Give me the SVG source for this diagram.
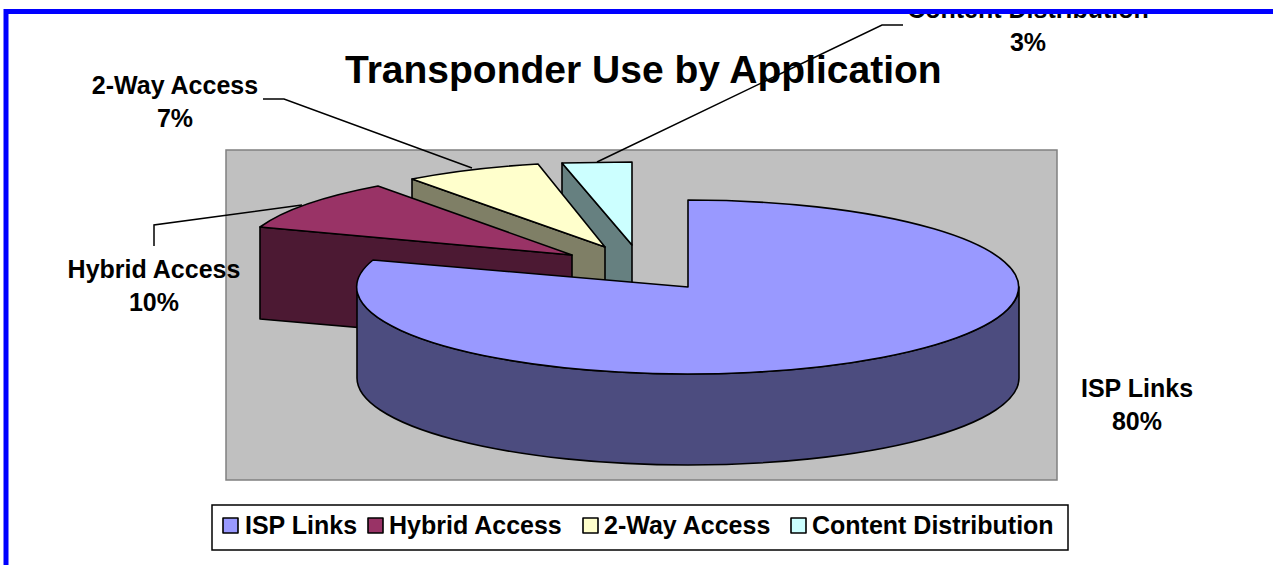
<svg xmlns="http://www.w3.org/2000/svg" width="1273" height="565" viewBox="0 0 1273 565">
<style>
.t{font-family:"Liberation Sans",Arial,sans-serif;font-weight:bold;fill:#000}
.lbl{font-size:25px;text-anchor:middle}
.leg{font-size:25px}
.e{stroke:#000;stroke-width:1.6;stroke-linejoin:round}
.ld{fill:none;stroke:#000;stroke-width:1.5}
</style>
<defs>
<clipPath id="frame"><rect x="0" y="9" width="1273" height="556"/></clipPath>
</defs>
<rect x="0" y="0" width="1273" height="565" fill="#fff"/>
<rect id="plot" x="226" y="150" width="831" height="330" fill="#C0C0C0" stroke="#808080" stroke-width="1.5"/>
<g id="slice-content">
<path class="e" fill="#668080" d="M562,163 L632,245 L632,336 L562,254 Z"/>
<path class="e" fill="#CCFFFF" d="M632,245 L562,163 L632,162 Z"/>
</g>
<g id="slice-2way">
<path class="e" fill="#7F7F66" d="M412,179 L605,247 L605,338 L412,270 Z"/>
<path class="e" fill="#FFFFCC" d="M605,247 L412,179 A331 87 0 0 1 538,164 Z"/>
</g>
<g id="slice-hybrid">
<path class="e" fill="#4C1933" d="M260,227 L572,255 L572,346 L260,319 Z"/>
<path class="e" fill="#993366" d="M572,255 L260,227 A331 87 0 0 1 378,186 Z"/>
</g>
<g id="slice-isp">
<path class="e" fill="#4C4C7F" d="M1019,287 A331 87 0 0 1 357,287 L357,378 A331 87 0 0 0 1019,378 Z"/>
<path class="e" fill="#9999FF" d="M688,287 L688,200 A331 87 0 1 1 373,260 Z"/>
</g>
<text id="title" class="t" x="345" y="83" font-size="39">Transponder Use by Application</text>
<g id="connectors">
<polyline class="ld" points="263,99 284,99 472,168"/>
<polyline class="ld" points="154,246 154,225 302,205"/>
<polyline class="ld" points="597,162 882,25 903,25"/>
</g>
<g id="label-2way">
<text class="t lbl" x="175" y="94">2-Way Access</text>
<text class="t lbl" x="175" y="127">7%</text>
</g>
<g id="label-hybrid">
<text class="t lbl" x="154" y="278">Hybrid Access</text>
<text class="t lbl" x="154" y="311">10%</text>
</g>
<g id="label-isp">
<text class="t lbl" x="1137" y="397">ISP Links</text>
<text class="t lbl" x="1137" y="430">80%</text>
</g>
<g id="label-content" clip-path="url(#frame)">
<text class="t lbl" x="1028" y="18">Content Distribution</text>
<text class="t lbl" x="1028" y="51">3%</text>
</g>
<g id="legend">
<rect x="212" y="505" width="856" height="45" fill="#fff" stroke="#000" stroke-width="1.5"/>
<rect class="e" x="223" y="518" width="15" height="15" fill="#9999FF"/>
<text class="t leg" x="245" y="534">ISP Links</text>
<rect class="e" x="368" y="518" width="15" height="15" fill="#993366"/>
<text class="t leg" x="389" y="534">Hybrid Access</text>
<rect class="e" x="583" y="518" width="15" height="15" fill="#FFFFCC"/>
<text class="t leg" x="604" y="534">2-Way Access</text>
<rect class="e" x="791" y="518" width="15" height="15" fill="#CCFFFF"/>
<text class="t leg" x="812" y="534">Content Distribution</text>
</g>
<rect id="border" x="6" y="11.5" width="1300" height="600" fill="none" stroke="#0000FF" stroke-width="5"/>
</svg>
